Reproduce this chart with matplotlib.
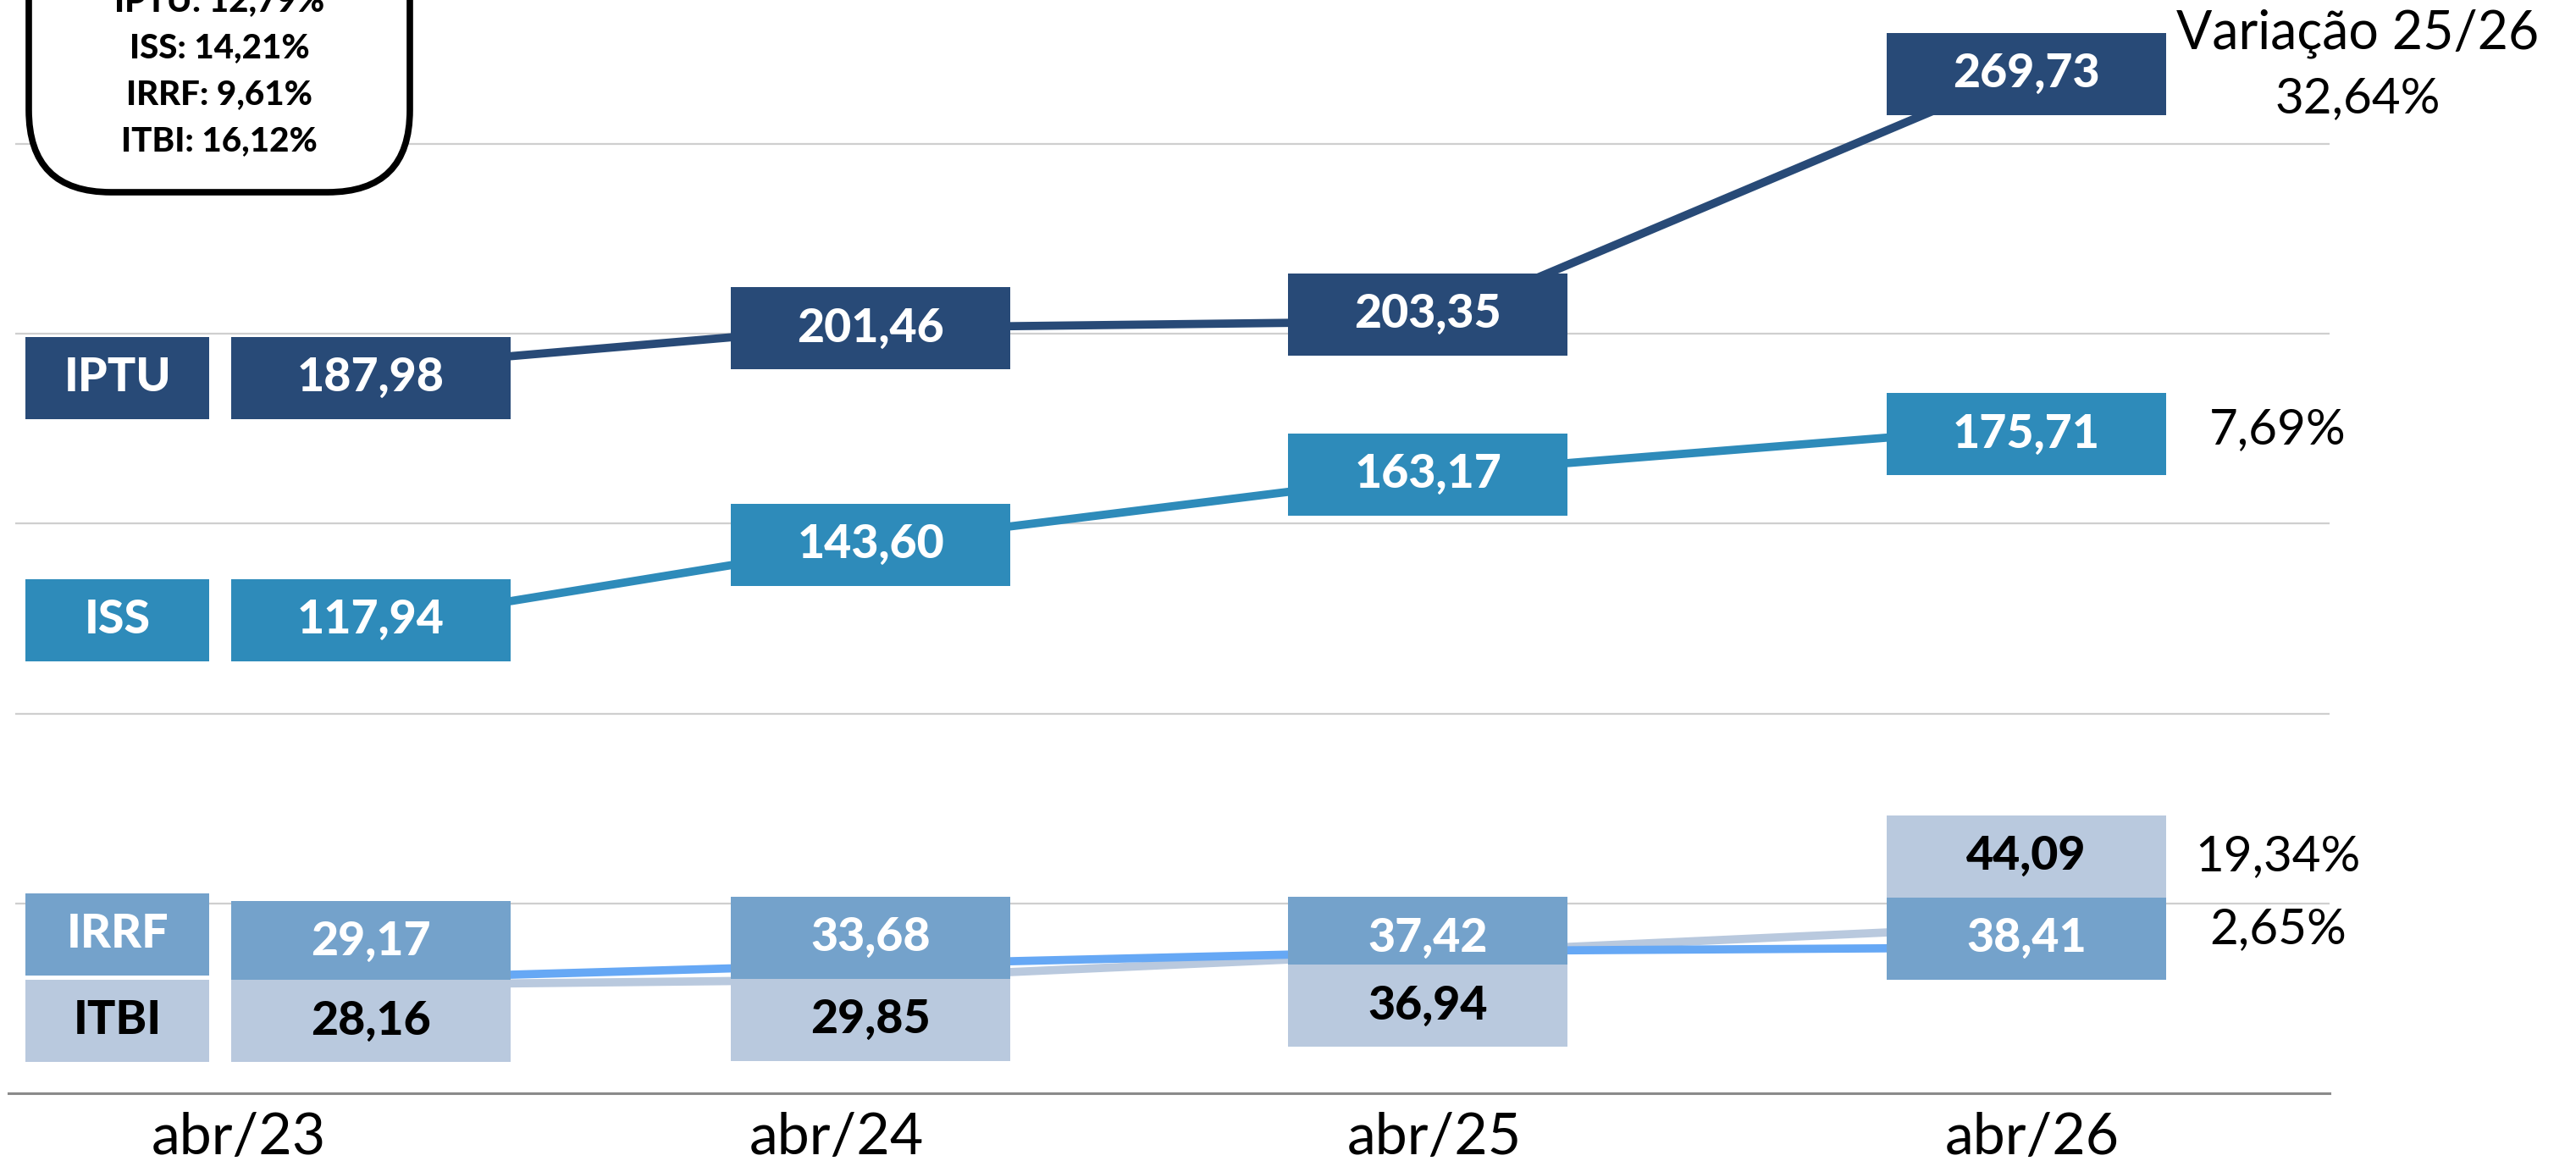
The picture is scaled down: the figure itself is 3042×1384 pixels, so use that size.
import matplotlib
matplotlib.use("Agg")
import matplotlib.pyplot as plt
from matplotlib.patches import Rectangle, FancyBboxPatch

# ---------------- data ----------------
categories = ["abr/23", "abr/24", "abr/25", "abr/26"]
series_names = ["IPTU", "ISS", "IRRF", "ITBI"]
iptu = [187.98, 201.46, 203.35, 269.73]
iss = [117.94, 143.60, 163.17, 175.71]
irrf = [29.17, 33.68, 37.42, 38.41]
itbi = [28.16, 29.85, 36.94, 44.09]
variation_title = "Variação 25/26"
variation_labels = ["32,64%", "7,69%", "2,65%", "19,34%"]   # IPTU, ISS, IRRF, ITBI
accum_labels = ["IPTU: 12,79%", "ISS: 14,21%", "IRRF: 9,61%", "ITBI: 16,12%"]

# ---------------- style / layout ----------------
line_colors = {"IPTU": "#284a77", "ISS": "#2e8bba", "IRRF": "#66a8f5", "ITBI": "#b9c9de"}
box_colors = {"IPTU": "#284a77", "ISS": "#2e8bba", "IRRF": "#74a2cb", "ITBI": "#b9c9de"}
text_colors = {"IPTU": "white", "ISS": "white", "IRRF": "white", "ITBI": "black"}
# label-box vertical offsets from the data value (data units)
box_offsets = {
    "IPTU": [0.4, 0.0, 1.8, -1.3],
    "ISS": [6.7, 0.9, -0.2, -2.2],
    "IRRF": [10.7, 7.3, 3.4, 2.4],
    "ITBI": [-9.1, -10.5, -13.9, 18.3],
}
box_xc = [0.221, 1.057, 1.989, 2.99]
name_box_x = -0.203
name_box_y = {"IPTU": 188.4, "ISS": 124.6, "IRRF": 41.9, "ITBI": 19.1}

W, H = 3042, 1384
fig = plt.figure(figsize=(W / 100, H / 100), dpi=100)
fig.patch.set_facecolor("white")

px_per_x = 706.0
x0_px = 282.0
base_px = 1291.0
px_per_unit = 224.2 / 50.0

left_px, right_px = 10.0, 2751.0
ax = fig.add_axes([left_px / W, (H - base_px) / H, (right_px - left_px) / W, base_px / H])
ax.set_xlim((left_px - x0_px) / px_per_x, (right_px - x0_px) / px_per_x)
ax.set_ylim(0, base_px / px_per_unit)
ax.set_facecolor("none")

for s in ["top", "right", "left"]:
    ax.spines[s].set_visible(False)
ax.spines["bottom"].set_color("#8a8a8a")
ax.spines["bottom"].set_linewidth(2.2)
ax.set_yticks([])

gx0 = (18 - x0_px) / px_per_x
gx1 = (right_px - x0_px) / px_per_x
ax.hlines([50, 100, 150, 200, 250], gx0, gx1, colors="#cfcfcf", linewidth=1.6, zorder=1)

xs = list(range(len(categories)))
ax.set_xticks(xs)
ax.set_xticklabels(categories, fontsize=49, family="Lato", color="black")
ax.tick_params(axis="x", length=0, pad=16)

values = {"IPTU": iptu, "ISS": iss, "IRRF": irrf, "ITBI": itbi}

# lines
for name in ["IPTU", "ISS", "ITBI", "IRRF"]:
    ax.plot(xs, values[name], color=line_colors[name], linewidth=7.0,
            solid_capstyle="butt", zorder=2)

bw = 330.0 / px_per_x
bh = 97.0 / px_per_unit
nbw = 217.0 / px_per_x


def fmt(v):
    return f"{v:.2f}".replace(".", ",")


zorders = {"IPTU": 5, "ISS": 5, "IRRF": 5, "ITBI": 6}
for name in series_names:
    for i, v in enumerate(values[name]):
        cy = v + box_offsets[name][i]
        cx = box_xc[i]
        ax.add_patch(Rectangle((cx - bw / 2, cy - bh / 2), bw, bh,
                               facecolor=box_colors[name], edgecolor="none",
                               zorder=zorders[name]))
        ax.text(cx, cy, fmt(v), ha="center", va="center", fontsize=40,
                fontweight="black", family="Lato", color=text_colors[name],
                zorder=zorders[name] + 1)
    # name box on the left
    cy = name_box_y[name]
    ax.add_patch(Rectangle((name_box_x - nbw / 2, cy - bh / 2), nbw, bh,
                           facecolor=box_colors[name], edgecolor="none", zorder=5,
                           clip_on=False))
    ax.text(name_box_x, cy, name, ha="center", va="center", fontsize=40,
            fontweight="black", family="Lato", color=text_colors[name], zorder=6)

# variation texts on the right
vx = (2690 - x0_px) / px_per_x
tx = (2784 - x0_px) / px_per_x
ax.text(tx, (base_px - 40) / px_per_unit, variation_title, ha="center", va="center",
        fontsize=45, family="Lato", color="black", clip_on=False)
ax.text(tx, (base_px - 117) / px_per_unit, variation_labels[0], ha="center", va="center",
        fontsize=42, family="Lato", color="black", clip_on=False)
ax.text(vx, (base_px - 508) / px_per_unit, variation_labels[1], ha="center", va="center",
        fontsize=42, family="Lato", color="black", clip_on=False)
ax.text(vx, (base_px - 1098) / px_per_unit, variation_labels[2], ha="center", va="center",
        fontsize=42, family="Lato", color="black", clip_on=False)
ax.text(vx, (base_px - 1012) / px_per_unit, variation_labels[3], ha="center", va="center",
        fontsize=42, family="Lato", color="black", clip_on=False)

# overlay in pixel coordinates for the rounded box
ov = fig.add_axes([0, 0, 1, 1])
ov.set_xlim(0, W)
ov.set_ylim(H, 0)
ov.axis("off")
ov.patch.set_alpha(0)
ov.add_patch(FancyBboxPatch((34, -300), 450, 527,
                            boxstyle="round,pad=0,rounding_size=97",
                            facecolor="white", edgecolor="black", linewidth=5.5,
                            zorder=3))
for k, lab in enumerate(accum_labels):
    ov.text(259, 2 + 55 * k, lab, ha="center", va="center", fontsize=29,
            fontweight="black", family="Lato", color="black", zorder=4)

fig.savefig("out.png", dpi=100, facecolor="white")
